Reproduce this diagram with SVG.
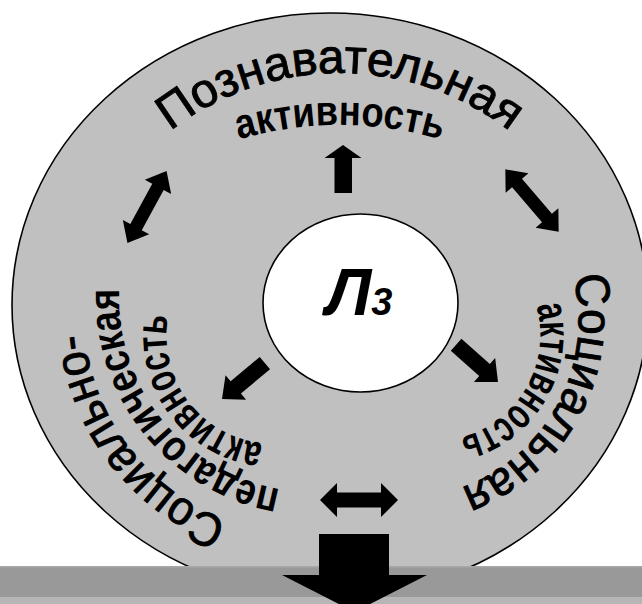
<svg xmlns="http://www.w3.org/2000/svg" width="642" height="604" viewBox="0 0 642 604">
<style>
.lbl{font-family:"Liberation Sans",Arial,sans-serif;fill:#000}
.reg{font-weight:normal;stroke:#000;stroke-width:0.9}
.bold{font-weight:bold}
.arr{fill:#000;stroke:none}
.ring{fill:#c0c0c0;stroke:#000;stroke-width:1.6}
.core{fill:#fff;stroke:#000;stroke-width:1.6}
</style>
<defs>
<path id="pTop" d="M79.7,255.3 A277,277 0 0 1 600.3,255.3"/>
<path id="pTopIn" d="M163,172.4 A354,354 0 0 1 517,172.4"/>
<path id="pRight" d="M489,165.8 A178,178 0 0 1 322,480"/>
<path id="pRightIn" d="M487.2,243.1 A105,105 0 0 1 381.2,426.6"/>
<path id="pLeft" d="M433.9,493.7 A222,222 0 0 1 163.8,141.7"/>
<path id="pLeftMid" d="M429.5,453.7 A194.5,194.5 0 0 1 185.9,150.8"/>
<path id="pLeftIn" d="M338,422.5 A106.5,106.5 0 0 1 209.9,250"/>
<polygon id="dbl" points="-41,0 -23,-15 -23,-6.5 23,-6.5 23,-15 41,0 23,15 23,6.5 -23,6.5 -23,15"/>
<polygon id="sgl" points="0,0 -18,-16 -18,-8 -56,-8 -56,8 -18,8 -18,16"/>
</defs>

<g id="ring">
<ellipse class="ring" cx="330" cy="305" rx="318" ry="292"/>
</g>
<g id="core">
<ellipse class="core" cx="360.5" cy="303" rx="97.5" ry="89"/>
<text class="lbl bold" x="326" y="315" font-size="66" font-style="italic">Л<tspan font-size="38">3</tspan></text>
</g>

<g id="cognitive">
<text class="lbl reg" font-size="48"><textPath href="#pTop" startOffset="50%" text-anchor="middle">Познавательная</textPath></text>
<text class="lbl bold" font-size="42"><textPath href="#pTopIn" startOffset="50%" text-anchor="middle" textLength="205" lengthAdjust="spacingAndGlyphs">активность</textPath></text>
</g>

<g id="social">
<text class="lbl reg" font-size="48"><textPath href="#pRight" startOffset="50%" text-anchor="middle" textLength="263" lengthAdjust="spacingAndGlyphs">Социальная</textPath></text>
<text class="lbl bold" font-size="44"><textPath href="#pRightIn" startOffset="50%" text-anchor="middle" textLength="170" lengthAdjust="spacingAndGlyphs">активность</textPath></text>
</g>

<g id="socio-pedagogical">
<text class="lbl reg" font-size="48"><textPath href="#pLeft" startOffset="50%" text-anchor="middle" textLength="248" lengthAdjust="spacingAndGlyphs">Социально-</textPath></text>
<text class="lbl bold" font-size="44"><textPath href="#pLeftMid" startOffset="50%" text-anchor="middle" textLength="281" lengthAdjust="spacingAndGlyphs">педагогическая</textPath></text>
<text class="lbl bold" font-size="44"><textPath href="#pLeftIn" startOffset="50%" text-anchor="middle" textLength="178" lengthAdjust="spacingAndGlyphs">активность</textPath></text>
</g>

<g id="connectors">
<polygon class="arr" points="343,145 361.5,158 352,158 352,193 334.5,193 334.5,158 324.5,158"/>
<use href="#dbl" class="arr" transform="translate(532,200.5) rotate(49.4)"/>
<use href="#dbl" class="arr" transform="translate(147,207) rotate(-61.5)"/>
<polygon class="arr" points="320,500 337,483 337,492.5 381,492.5 381,483 398,500 381,517 381,507.5 337,507.5 337,517"/>
<use href="#sgl" class="arr" transform="translate(498,382) rotate(41.6)"/>
<use href="#sgl" class="arr" transform="translate(222,399) rotate(140)"/>
</g>

<g id="base">
<rect x="0" y="567" width="642" height="30" fill="#999999"/>
<rect x="0" y="566" width="642" height="1.5" fill="#a8a8a8"/>
<rect x="0" y="597" width="642" height="7" fill="#b6b6b6"/>
</g>
<g id="output-arrow">
<polygon class="arr" points="319,534 389,534 389,575 427,575 354.5,612 282,575 319,575"/>
</g>
</svg>
